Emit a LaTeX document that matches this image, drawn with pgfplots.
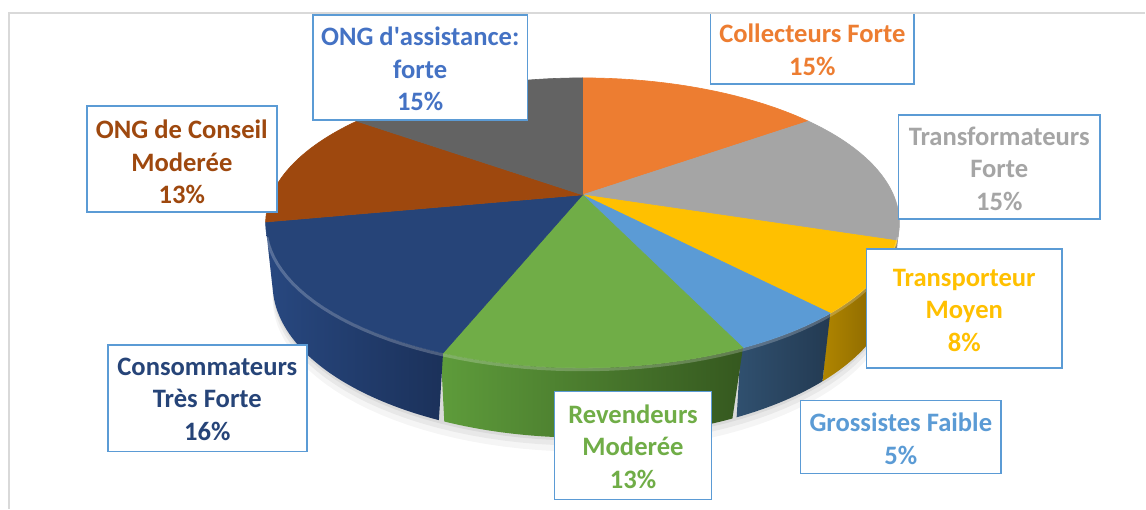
\documentclass[border=0pt]{standalone}
\usepackage{fontspec}
\setmainfont{Carlito}
\usepackage{pgfplots}
\usepackage{pgfplotstable}
\pgfplotsset{compat=1.18}
\definecolor{cOrange}{HTML}{ED7D31}
\definecolor{cGray}{HTML}{A5A5A5}
\definecolor{cGold}{HTML}{FFC000}
\definecolor{cLBlue}{HTML}{5B9BD5}
\definecolor{cGreen}{HTML}{70AD47}
\definecolor{cNavy}{HTML}{264478}
\definecolor{cBrown}{HTML}{9E480E}
\definecolor{cDGray}{HTML}{636363}
\definecolor{cBlueTxt}{HTML}{4472C4}
\definecolor{sGrayL}{HTML}{747474}
\definecolor{sGrayR}{HTML}{5E5E5E}
\definecolor{sGoldL}{HTML}{B08500}
\definecolor{sGoldR}{HTML}{7E5F00}
\definecolor{sLBlueL}{HTML}{30506F}
\definecolor{sLBlueR}{HTML}{233A52}
\definecolor{sGreenL}{HTML}{5E9C3B}
\definecolor{sGreenR}{HTML}{35581F}
\definecolor{sNavyL}{HTML}{284880}
\definecolor{sNavyR}{HTML}{1B315A}
\definecolor{cBorder}{HTML}{5B9BD5}
\definecolor{cFrame}{HTML}{D9D9D9}

% share of each slice, clockwise from 12 o'clock
\pgfplotstableread{
idx pct
0 15
1 15
2 8
3 5
4 13
5 16
6 13
7 15
}\piedata

\newcommand\nextangle[3]{\pgfplotstablegetelem{#1}{pct}\of\piedata\pgfmathsetmacro#3{#2+3.6*\pgfplotsretval}}
\newcommand\topslice[3]{\addplot[fill=#3, draw=#3, line width=0.3pt, domain=#1:#2, samples=60, variable=\p] ({tx(\p)},{ty(\p)}) -- (axis cs:583,314) -- cycle;}
\newcommand\sideslice[4]{\addplot[left color=#3, right color=#4, draw=none, variable=\u,
  samples at={0,0.025,...,1,1.00001,1.025,1.05,...,2}]
  ({(\u>1 ? bx(#1+(#2-#1)*(1-abs(1-\u))) : tx(#1+(#2-#1)*(1-abs(1-\u))))},
   {(\u>1 ? by(#1+(#2-#1)*(1-abs(1-\u))) : ty(#1+(#2-#1)*(1-abs(1-\u))))}) -- cycle;}
\newcommand\lbl{\fontsize{13.3}{16.2}\selectfont\bfseries}

\begin{document}
\begin{tikzpicture}
\def\angA{0}
\nextangle{0}{\angA}{\angB}
\nextangle{1}{\angB}{\angC}
\nextangle{2}{\angC}{\angD}
\nextangle{3}{\angD}{\angE}
\nextangle{4}{\angE}{\angF}
\nextangle{5}{\angF}{\angG}
\nextangle{6}{\angG}{\angH}
\nextangle{7}{\angH}{\angI}
\pgfmathsetmacro\sB{max(\angB,104)}
\pgfmathsetmacro\sG{min(\angG,256)}
\pgfmathsetmacro\sGa{\sG+0.0}
\begin{axis}[
  x=0.5pt, y=0.5pt,
  xmin=0, xmax=1146, ymin=0, ymax=509,
  hide axis, clip=false,
  declare function={
    wt(\p)=4.625+0.8937*cos(\p);
    tx(\p)=583+1439*sin(\p)/wt(\p);
    ty(\p)=314+645.8*cos(\p)/wt(\p);
    wb(\p)=4.72445+0.8937*cos(\p);
    bx(\p)=583+1439*sin(\p)/wb(\p);
    by(\p)=314+(-285.0+645.8*cos(\p))/wb(\p);
  },
]
\path[fill=white] (rel axis cs:0,0) rectangle (rel axis cs:1,1);
% soft shadow
\addplot[fill=black, opacity=0.04, draw=none, domain=100:260, samples=60, variable=\p] ({bx(\p)},{by(\p)-14}) -- cycle;
\addplot[fill=black, opacity=0.05, draw=none, domain=100:260, samples=60, variable=\p] ({bx(\p)},{by(\p)-8}) -- cycle;
\addplot[fill=black, opacity=0.06, draw=none, domain=100:260, samples=60, variable=\p] ({bx(\p)},{by(\p)-3}) -- cycle;
% side walls (slightly overlapping to avoid hairline gaps)
\sideslice{\sB}{\angC+0.4}{sGrayL}{sGrayR}
\sideslice{\angC}{\angD+0.4}{sGoldL}{sGoldR}
\sideslice{\angD}{\angE+0.4}{sLBlueL}{sLBlueR}
\sideslice{\angE}{\angF+0.4}{sGreenL}{sGreenR}
\sideslice{\angF}{\sG}{sNavyL}{sNavyR}
% top faces
\topslice{\angA}{\angB}{cOrange}
\topslice{\angB}{\angC}{cGray}
\topslice{\angC}{\angD}{cGold}
\topslice{\angD}{\angE}{cLBlue}
\topslice{\angE}{\angF}{cGreen}
\topslice{\angF}{\angG}{cNavy}
\topslice{\angG}{\angH}{cBrown}
\topslice{\angH}{\angI}{cDGray}
% bevel highlight
\addplot[draw=white, opacity=0.22, line width=1.5pt, domain=106:254, samples=60, variable=\p] ({tx(\p)},{ty(\p)-2});

% label boxes
\draw[cBorder, line width=0.8pt, fill=white] (axis cs:313,494) rectangle (axis cs:528,389);
\draw[cBorder, line width=0.8pt, fill=white] (axis cs:711,496) rectangle (axis cs:915,425);
\draw[cBorder, line width=0.8pt, fill=white] (axis cs:899,394) rectangle (axis cs:1101,290);
\draw[cBorder, line width=0.8pt, fill=white] (axis cs:867,260) rectangle (axis cs:1063,141);
\draw[cBorder, line width=0.8pt, fill=white] (axis cs:801,108) rectangle (axis cs:1002,35);
\draw[cBorder, line width=0.8pt, fill=white] (axis cs:555,117) rectangle (axis cs:712,9);
\draw[cBorder, line width=0.8pt, fill=white] (axis cs:108,164) rectangle (axis cs:307,57);
\draw[cBorder, line width=0.8pt, fill=white] (axis cs:87,403) rectangle (axis cs:277,297);

\node[text=cBlueTxt, align=center, font=\lbl, inner sep=0pt] at (axis cs:420.5,440) {ONG d\textquotesingle assistance:\\forte\\15\%};
\node[text=cOrange, align=center, font=\lbl, inner sep=0pt] at (axis cs:813,459) {Collecteurs Forte\\15\%};
\node[text=cGray, align=center, font=\lbl, inner sep=0pt] at (axis cs:1000,340) {Transformateurs\\Forte\\15\%};
\node[text=cGold, align=center, font=\lbl, inner sep=0pt] at (axis cs:965,198.5) {Transporteur\\Moyen\\8\%};
\node[text=cLBlue, align=center, font=\lbl, inner sep=0pt] at (axis cs:901.5,70) {Grossistes Faible\\5\%};
\node[text=cGreen, align=center, font=\lbl, inner sep=0pt] at (axis cs:633.5,62) {Revendeurs\\Moderée\\13\%};
\node[text=cNavy, align=center, font=\lbl, inner sep=0pt] at (axis cs:207.5,109.5) {Consommateurs\\Très Forte\\16\%};
\node[text=cBrown, align=center, font=\lbl, inner sep=0pt] at (axis cs:182,347) {ONG de Conseil\\Moderée\\13\%};

% chart frame
\draw[cFrame, line width=0.9pt] (axis cs:9,0) -- (axis cs:9,496) -- (axis cs:1146,496);
\end{axis}
\end{tikzpicture}
\end{document}
